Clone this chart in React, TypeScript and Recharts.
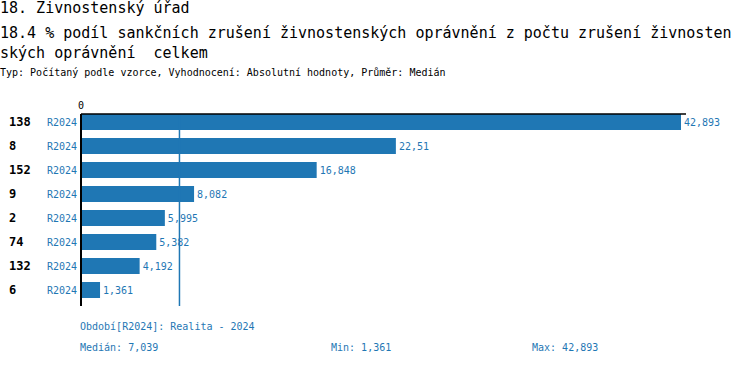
import React from "react";
import { Bar, BarChart, LabelList, ReferenceLine, XAxis, YAxis } from "recharts";

const units = ["138", "8", "152", "9", "2", "74", "132", "6"];
const values = [42.893, 22.51, 16.848, 8.082, 5.995, 5.382, 4.192, 1.361];
const period = "R2024";
const median = 7.039;
const minValue = 1.361;
const maxValue = 42.893;
const axisMax = 43.25;

const blue = "#1f77b4";
const mono = '"DejaVu Sans Mono", monospace';

const data = units.map((unit, i) => ({ unit, value: values[i] }));

const fmt = (v: number | string) => String(v).replace(".", ",");

function UnitTick({ x, y, payload }: { x?: number; y?: number; payload?: { value: string } }) {
  return (
    <g>
      <text x={9} y={y} dy={4} fontSize={12} fontWeight="bold" fill="#000">
        {payload?.value}
      </text>
      <text x={(x ?? 0) + 1} y={y} dy={4} fontSize={10} textAnchor="end" fill={blue}>
        {period}
      </text>
    </g>
  );
}

export default function App() {
  return (
    <div style={{ position: "absolute", left: 0, top: 0, width: 750, height: 366, fontFamily: mono, background: "#fff" }}>
      <div style={{ position: "absolute", left: 0, top: 0, fontSize: 15, lineHeight: "17px" }}>18. Živnostenský úřad</div>
      <div style={{ position: "absolute", left: 0, top: 23, fontSize: 15, lineHeight: "20px", whiteSpace: "pre" }}>
        {"18.4 % podíl sankčních zrušení živnostenských oprávnění z počtu zrušení živnosten\nských oprávnění  celkem"}
      </div>
      <div style={{ position: "absolute", left: 0, top: 66, fontSize: 10, lineHeight: "14px" }}>
        Typ: Počítaný podle vzorce, Vyhodnocení: Absolutní hodnoty, Průměr: Medián
      </div>
      <BarChart
        width={750}
        height={366}
        data={data}
        layout="vertical"
        margin={{ top: 100, right: 64, left: 0, bottom: 60 }}
        style={{ position: "absolute", left: 0, top: 0 }}
      >
        <XAxis
          type="number"
          orientation="top"
          domain={[0, axisMax]}
          ticks={[0]}
          height={14}
          tickLine={false}
          tickSize={3}
          axisLine={{ stroke: "#000", strokeWidth: 1.5 }}
          tick={{ fontSize: 10, fill: "#000" }}
        />
        <YAxis
          type="category"
          dataKey="unit"
          width={81}
          tickLine={false}
          tickSize={3}
          padding={{ top: -4, bottom: 4 }}
          axisLine={{ stroke: "#000", strokeWidth: 2 }}
          tick={<UnitTick />}
        />
        <ReferenceLine x={median} stroke={blue} strokeWidth={1.5} />
        <Bar dataKey="value" fill={blue} barSize={16} isAnimationActive={false}>
          <LabelList dataKey="value" position="right" offset={3} formatter={fmt} fill={blue} fontSize={10} />
        </Bar>
      </BarChart>
      <div style={{ position: "absolute", left: 80, top: 321, fontSize: 10, color: blue }}>Období[R2024]: Realita - 2024</div>
      <div style={{ position: "absolute", left: 80, top: 342, fontSize: 10, color: blue }}>Medián: {fmt(median)}</div>
      <div style={{ position: "absolute", left: 331, top: 342, fontSize: 10, color: blue }}>Min: {fmt(minValue)}</div>
      <div style={{ position: "absolute", left: 532, top: 342, fontSize: 10, color: blue }}>Max: {fmt(maxValue)}</div>
    </div>
  );
}
